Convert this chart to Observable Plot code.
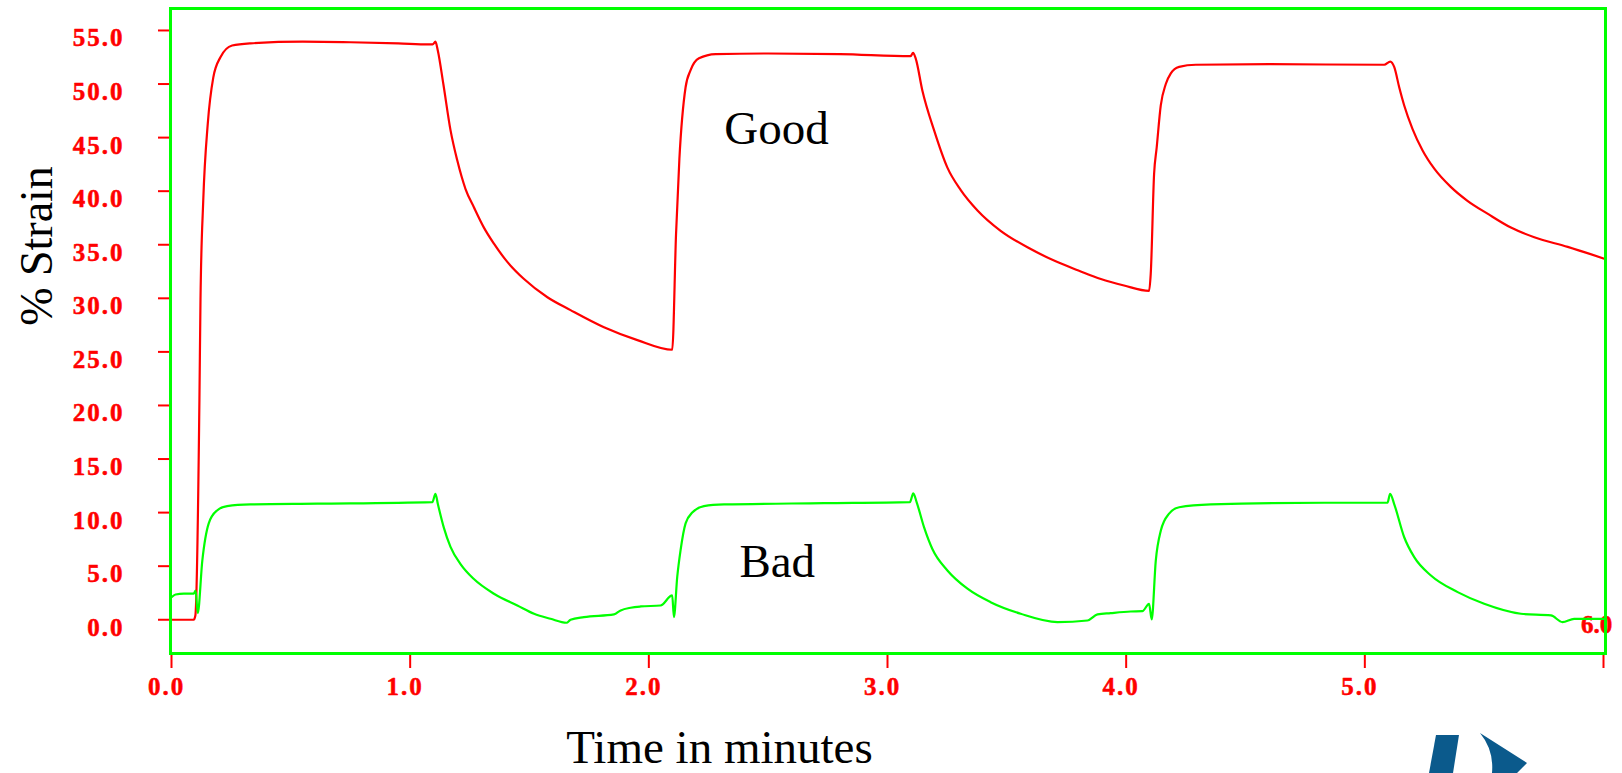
<!DOCTYPE html>
<html>
<head>
<meta charset="utf-8">
<script src="https://cdn.jsdelivr.net/npm/d3@7"></script>
<script src="https://cdn.jsdelivr.net/npm/@observablehq/plot@0.6"></script>
<style>
  html, body { margin: 0; padding: 0; background: #fff; }
  #chart { position: relative; width: 1622px; height: 773px; overflow: hidden; }
  #chart svg { display: block; }
  g[aria-label="y-axis tick label"] text,
  g[aria-label="x-axis tick label"] text,
  g[aria-label="x end label"] text { letter-spacing: 2px; }
  #logo { position: absolute; left: 0; top: 0; pointer-events: none; }
</style>
</head>
<body>
<div id="chart"></div>
<script>
// Time axis (minutes) and strain axis (%) ticks
const xTicks = [0, 1, 2, 3, 4, 5, 6];
const yTicks = [0, 5, 10, 15, 20, 25, 30, 35, 40, 45, 50, 55];

// "Good" sample: three load / recovery cycles
const goodTime = [
  0.000, 0.093, 0.100, 0.117, 0.1215, 0.133, 0.152, 0.175, 0.205, 0.254, 0.331, 0.55, 0.75, 0.95, 1.078, 1.094,
  1.106, 1.116, 1.139, 1.169, 1.197, 1.232, 1.267, 1.309, 1.351, 1.407, 1.477, 1.575, 1.672, 1.812, 1.952, 2.098,
  2.114, 2.128, 2.154, 2.175, 2.21, 2.28, 2.5, 2.8, 3.097, 3.107, 3.118, 3.146, 3.195, 3.251, 3.307, 3.377,
  3.474, 3.6, 3.7, 3.8, 3.894, 3.991, 4.096,
  4.103, 4.117, 4.128, 4.145, 4.166, 4.187, 4.222, 4.292, 4.6, 5.081, 5.107, 5.123, 5.144, 5.165, 5.2, 5.242,
  5.291, 5.36, 5.43, 5.514, 5.612, 5.71, 5.85, 6.003
];
const goodStrain = [
  0.0, 0.0, 0.4, 20.5, 29.9, 39.1, 46.3, 50.6, 52.5, 53.6, 53.8, 53.95, 53.9, 53.8, 53.7, 53.7,
  53.95, 53.1, 50.0, 45.7, 42.9, 40.2, 38.5, 36.6, 35.1, 33.4, 31.8, 30.1, 28.9, 27.3, 26.1, 25.2,
  36.0, 43.0, 49.7, 51.3, 52.4, 52.8, 52.85, 52.8, 52.6, 52.9, 52.4, 49.4, 45.7, 42.2, 40.1, 38.2,
  36.3, 34.6, 33.5, 32.6, 31.8, 31.2, 30.7,
  32.3, 41.6, 44.1, 48.0, 50.0, 51.0, 51.6, 51.8, 51.85, 51.8, 52.1, 51.6, 49.7, 48.0, 45.8, 43.8,
  42.1, 40.4, 39.1, 37.9, 36.6, 35.7, 34.8, 33.7
];

// "Bad" sample: same cycles, far lower strain
const badTime = [
  0.000, 0.017, 0.052, 0.093, 0.101, 0.110, 0.129, 0.156, 0.191, 0.233, 0.331, 0.611, 1.093, 1.106, 1.116, 1.141,
  1.169, 1.211, 1.267, 1.351, 1.449, 1.519, 1.588, 1.655, 1.672, 1.728, 1.854, 1.882, 1.924, 1.966, 2.049, 2.098,
  2.105, 2.119, 2.133, 2.154, 2.182, 2.231, 2.315, 2.734, 3.094, 3.108, 3.122, 3.153, 3.188, 3.251, 3.335, 3.432,
  3.558, 3.712, 3.838, 3.880, 3.935, 4.019, 4.068, 4.096, 4.107, 4.124, 4.145, 4.180, 4.222, 4.355, 4.830, 5.095,
  5.106, 5.123, 5.165, 5.207, 5.277, 5.389, 5.500, 5.654, 5.780, 5.828, 5.877, 6.003
];
const badStrain = [
  2.1, 2.36, 2.43, 2.43, 2.73, 0.62, 5.5, 9.0, 10.2, 10.6, 10.76, 10.83, 10.98, 11.76, 10.8, 8.6,
  6.8, 5.2, 3.8, 2.43, 1.33, 0.56, 0.09, -0.28, 0.0, 0.25, 0.5, 0.87, 1.12, 1.24, 1.33, 2.27,
  0.24, 4.0, 6.5, 9.0, 10.0, 10.6, 10.76, 10.88, 10.98, 11.8, 10.98, 8.64, 6.6, 4.6, 2.9, 1.64,
  0.56, -0.22, -0.07, 0.5, 0.62, 0.77, 0.8, 1.49, 0.03, 5.5, 8.3, 9.9, 10.5, 10.76, 10.92, 10.92,
  11.76, 10.8, 7.7, 5.84, 4.13, 2.58, 1.49, 0.56, 0.4, -0.22, 0.09, 0.09
];

// In-plot annotations
const noteText = ["Good", "Bad"];
const noteTime = [2.535, 2.538];
const noteStrain = [44.4, 3.98];

const good = goodTime.map((t, i) => ({t, v: goodStrain[i]}));
const bad = badTime.map((t, i) => ({t, v: badStrain[i]}));
const notes = noteText.map((text, i) => ({text, t: noteTime[i], v: noteStrain[i]}));

const RED = "#ff0000";
const GREEN = "#00ff00";
const fmt = d => d.toFixed(1);
const labelStyle = {fill: RED, fontSize: 25, fontWeight: "bold", textStroke: RED, textStrokeWidth: 0.5};

const chart = Plot.plot({
  width: 1622,
  height: 773,
  marginLeft: 171,
  marginRight: 19,
  marginTop: 8,
  marginBottom: 120,
  style: {fontFamily: "'Liberation Serif', 'Times New Roman', serif", background: "white", overflow: "visible"},
  x: {domain: [0, 6]},
  y: {domain: [-3.15, 57.05]},
  marks: [
    // tick marks
    Plot.axisY(yTicks, {tickSize: 13, stroke: RED, strokeWidth: 2, fill: "none", label: null}),
    Plot.axisX(xTicks, {tickSize: 15, stroke: RED, strokeWidth: 2, fill: "none", label: null}),
    // tick labels
    Plot.axisY(yTicks, {tickSize: 0, tickPadding: 47, dy: 8, tickFormat: fmt, label: null, ...labelStyle}),
    Plot.axisX(xTicks.filter(d => d < 6), {tickSize: 0, tickPadding: 24, dx: -5, tickFormat: fmt, label: null, ...labelStyle}),
    Plot.text(xTicks.filter(d => d === 6), {x: d => d, text: fmt, frameAnchor: "bottom", dy: -20.5, dx: -7,
      fill: RED, stroke: RED, strokeWidth: 0.5, fontSize: 25, fontWeight: "bold", ariaLabel: "x end label"}),
    // series
    Plot.line(good, {x: "t", y: "v", stroke: RED, strokeWidth: 2.2, curve: "monotone-x"}),
    Plot.line(bad, {x: "t", y: "v", stroke: GREEN, strokeWidth: 2.2, curve: "monotone-x"}),
    Plot.text(notes, {x: "t", y: "v", text: "text", fontSize: 47, lineAnchor: "bottom", fill: "black"}),
    Plot.frame({stroke: GREEN, strokeWidth: 3, insetLeft: -1, insetRight: -2}),
    // axis titles
    Plot.text(["% Strain"], {frameAnchor: "left", rotate: -90, dx: -120, dy: -85, textAnchor: "middle",
      lineAnchor: "bottom", fontSize: 46, fill: "black"}),
    Plot.text(["Time in minutes"], {frameAnchor: "bottom-left", dx: 548, dy: 109, textAnchor: "middle",
      lineAnchor: "bottom", fontSize: 47, fill: "black"})
  ]
});

const host = document.getElementById("chart");
host.appendChild(chart);

// company mark, bottom right
const logo = d3.select(host).append("svg")
  .attr("id", "logo").attr("width", 1622).attr("height", 773);
logo.append("path").attr("fill", "#0b5a8c")
  .attr("d", "M1436,735 L1459,735 L1453,773 L1429,773 Z");
logo.append("path").attr("fill", "#0b5a8c")
  .attr("d", "M1480,733 L1527,763 L1517,773 L1492,773 Q1494,750 1480,733 Z");
</script>
</body>
</html>
